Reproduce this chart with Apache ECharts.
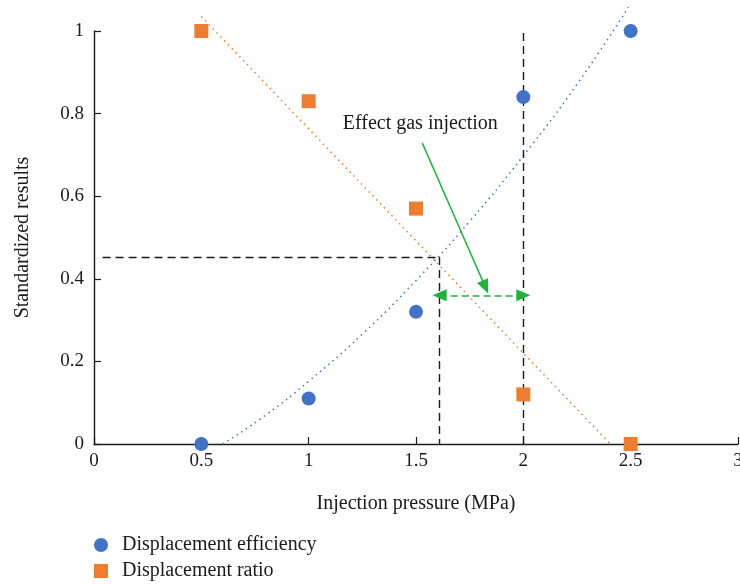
<!DOCTYPE html>
<html>
<head>
<meta charset="utf-8">
<script src="https://cdn.jsdelivr.net/npm/echarts@6/dist/echarts.min.js"></script>
<style>
  html, body { margin: 0; padding: 0; background: #fff; }
  #chart { width: 740px; height: 584px; }
</style>
</head>
<body>
<div id="chart"></div>
<script>
// Injection pressure (MPa) at each test point
const pressure = [0.5, 1, 1.5, 2, 2.5];
// Standardized results per pressure
const efficiency = [0, 0.11, 0.32, 0.84, 1];
const ratio = [1, 0.83, 0.57, 0.12, 0];

// Trend curve for displacement efficiency (polynomial trend, sampled)
const effTrendX = [0.6, 0.8, 1.0, 1.25, 1.5, 1.75, 2.0, 2.25, 2.49];
const effTrendY = [0, 0.07, 0.152, 0.266, 0.396, 0.539, 0.698, 0.871, 1.058];
// Linear trend for displacement ratio
const ratioTrendX = [0.5, 2.405];
const ratioTrendY = [1.035, 0];

// Optimum window for gas injection
const crossPoint = [1.61, 0.453];
const guideStartX = 0.04;
const upperPressure = 2;
const upperGuideTop = 0.995;
const windowLevel = 0.36;
const noteText = 'Effect gas injection';
const notePos = [1.52, 0.776];
const pointerFrom = [1.529, 0.729];
const pointerTo = [1.823, 0.38];

const xTicks = [0, 0.5, 1, 1.5, 2, 2.5, 3];
const yTicks = [0, 0.2, 0.4, 0.6, 0.8, 1];

const FONT = 'Liberation Serif';
const BLUE = '#4472C4';
const ORANGE = '#ED7D31';
const GREEN = '#1DB33C';
const INK = '#1a1a1a';

const zip = (xs, ys) => xs.map((x, i) => [x, ys[i]]);

const chart = echarts.init(document.getElementById('chart'), null, { renderer: 'canvas' });

const dashedBlack = { color: INK, type: [8, 5], width: 1.4 };
const legendText = { fontFamily: FONT, fontSize: 20, color: INK, padding: [0, 0, 0, 9] };

chart.setOption({
  animation: false,
  backgroundColor: '#ffffff',
  textStyle: { fontFamily: FONT },
  grid: { left: 94, right: 2, top: 31, bottom: 140, containLabel: false, outerBoundsMode: 'none' },
  xAxis: {
    type: 'value',
    min: xTicks[0],
    max: xTicks[xTicks.length - 1],
    interval: 0.5,
    name: 'Injection pressure (MPa)',
    nameLocation: 'middle',
    nameGap: 50,
    nameTextStyle: { fontFamily: FONT, fontSize: 20, color: INK },
    axisLine: { show: true, lineStyle: { color: INK, width: 1.4 } },
    axisTick: { show: true, inside: true, length: 7, lineStyle: { color: INK, width: 1.2 } },
    axisLabel: { fontFamily: FONT, fontSize: 19, color: INK, margin: 8, showMaxLabel: true, showMinLabel: true },
    splitLine: { show: false }
  },
  yAxis: {
    type: 'value',
    min: yTicks[0],
    max: yTicks[yTicks.length - 1],
    interval: 0.2,
    name: 'Standardized results',
    nameLocation: 'middle',
    nameGap: 61,
    nameTextStyle: { fontFamily: FONT, fontSize: 20, color: INK },
    axisLine: { show: true, lineStyle: { color: INK, width: 1.4 } },
    axisTick: { show: true, inside: true, length: 7, lineStyle: { color: INK, width: 1.2 } },
    axisLabel: { fontFamily: FONT, fontSize: 19, color: INK, margin: 10 },
    splitLine: { show: false }
  },
  legend: [
    {
      left: 94, top: 535, padding: 0,
      itemWidth: 14, itemHeight: 14, itemGap: 8,
      textStyle: legendText,
      data: [{ name: 'Displacement efficiency', icon: 'circle' }]
    },
    {
      left: 94, top: 561, padding: 0,
      itemWidth: 14, itemHeight: 14, itemGap: 8,
      textStyle: legendText,
      data: [{ name: 'Displacement ratio', icon: 'rect' }]
    }
  ],
  series: [
    {
      name: 'efficiency trend',
      type: 'line',
      data: zip(effTrendX, effTrendY),
      smooth: true,
      showSymbol: false,
      clip: false,
      silent: true,
      lineStyle: { color: BLUE, type: [1.5, 4], width: 1.5 },
      z: 2
    },
    {
      name: 'ratio trend',
      type: 'line',
      data: zip(ratioTrendX, ratioTrendY),
      showSymbol: false,
      clip: false,
      silent: true,
      lineStyle: { color: ORANGE, type: [1.5, 4], width: 1.5 },
      z: 2
    },
    {
      name: 'guides',
      type: 'line',
      data: [],
      silent: true,
      markLine: {
        silent: true,
        symbol: ['none', 'none'],
        label: { show: false },
        lineStyle: dashedBlack,
        data: [
          [{ coord: [guideStartX, crossPoint[1]] }, { coord: [crossPoint[0], crossPoint[1]] }],
          [{ coord: [crossPoint[0], crossPoint[1]] }, { coord: [crossPoint[0], 0] }],
          [{ coord: [upperPressure, upperGuideTop] }, { coord: [upperPressure, 0] }]
        ]
      },
      z: 3
    },
    {
      name: 'window',
      type: 'line',
      data: [],
      silent: true,
      markLine: {
        silent: true,
        symbol: ['triangle', 'triangle'],
        symbolSize: [12, 14],
        label: { show: false },
        lineStyle: { color: GREEN, type: [7, 4], width: 1.5 },
        data: [
          [{ coord: [crossPoint[0], windowLevel] }, { coord: [upperPressure, windowLevel] }]
        ]
      },
      z: 4
    },
    {
      name: 'pointer',
      type: 'line',
      data: [],
      silent: true,
      markLine: {
        silent: true,
        symbol: ['none', 'triangle'],
        symbolSize: [12, 14],
        label: { show: false },
        lineStyle: { color: GREEN, type: 'solid', width: 1.5 },
        data: [
          [{ coord: pointerFrom }, { coord: pointerTo }]
        ]
      },
      z: 4
    },
    {
      name: 'note',
      type: 'scatter',
      data: [notePos],
      symbolSize: 0,
      silent: true,
      itemStyle: { opacity: 1 },
      label: {
        show: true,
        position: 'inside',
        formatter: noteText,
        fontFamily: FONT,
        fontSize: 20,
        color: INK,
        opacity: 1
      },
      z: 5
    },
    {
      name: 'Displacement efficiency',
      type: 'scatter',
      data: zip(pressure, efficiency),
      symbol: 'circle',
      symbolSize: 14,
      itemStyle: { color: BLUE, opacity: 1 },
      z: 6
    },
    {
      name: 'Displacement ratio',
      type: 'scatter',
      data: zip(pressure, ratio),
      symbol: 'rect',
      symbolSize: 14,
      itemStyle: { color: ORANGE, opacity: 1 },
      z: 6
    }
  ]
});
</script>
</body>
</html>
